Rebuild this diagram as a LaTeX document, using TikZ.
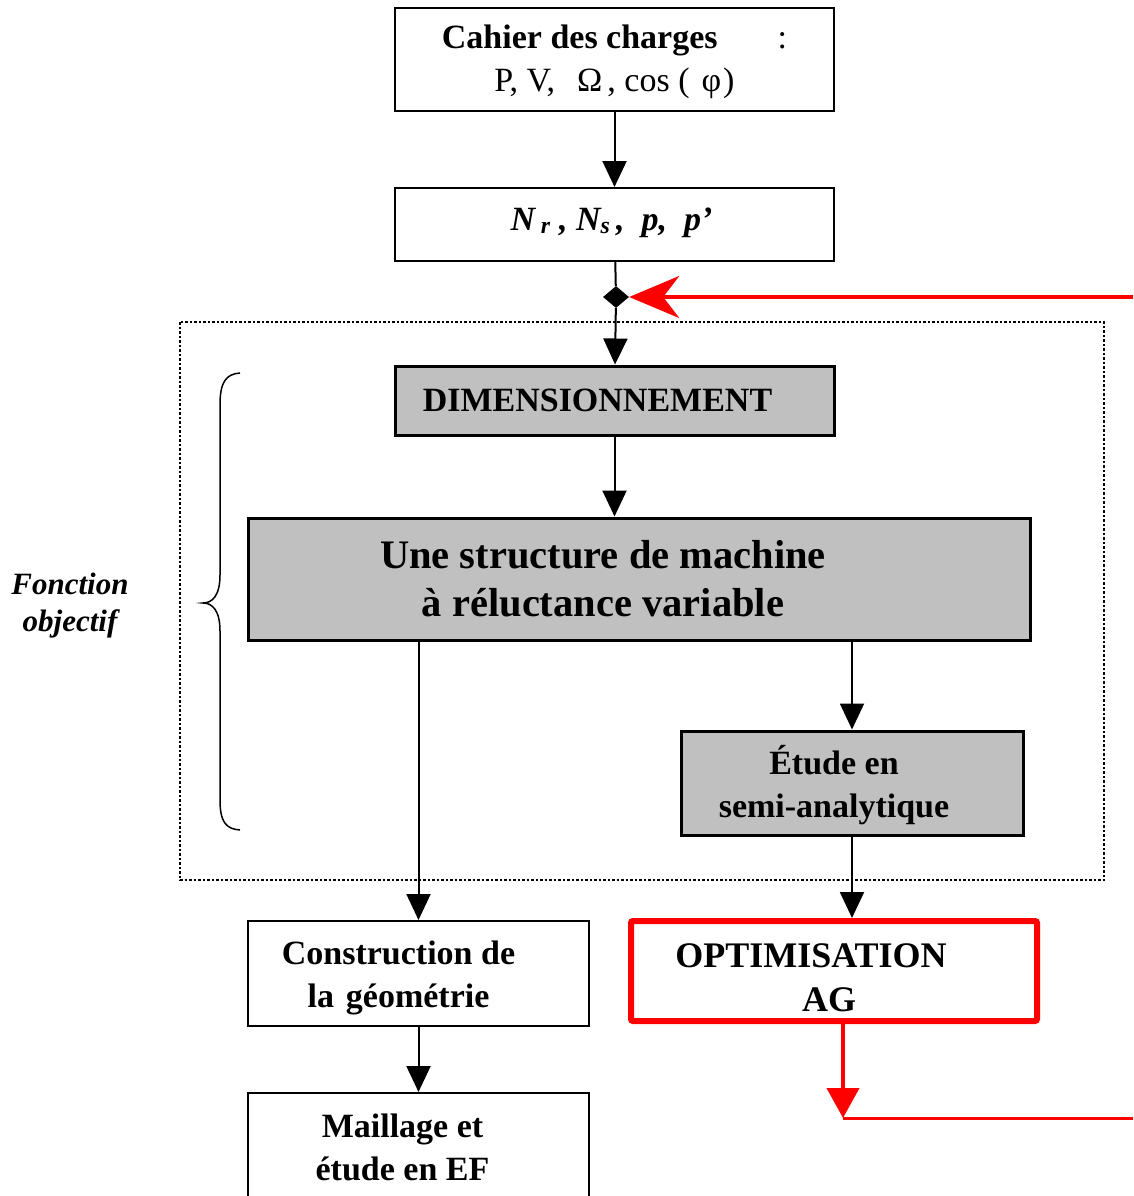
\documentclass[tikz,border=0pt]{standalone}
\usepackage{fontspec}
\setmainfont{Liberation Serif}
\usetikzlibrary{arrows.meta,shapes.geometric}
\definecolor{FlowGrey}{HTML}{C0C0C0}
\definecolor{FlowRed}{HTML}{FF0000}

\begin{document}
\begin{tikzpicture}[x=1pt,y=-1pt,
    >={Triangle[length=26pt,width=24pt]},
    flow/.style={->,line width=2pt},
    loopback/.style={draw=FlowRed,line width=4pt},
    plainbox/.style={draw,line width=2pt,fill=white,inner sep=0pt},
    greybox/.style={draw,line width=3pt,fill=FlowGrey,inner sep=0pt},
    optbox/.style={draw=FlowRed,line width=6pt,rounded corners=2pt,inner sep=0pt},
    boxtext/.style={font=\fontsize{34}{43}\selectfont\bfseries,align=center},
    bigtext/.style={font=\fontsize{40.5}{48}\selectfont\bfseries,align=center},
    sidetext/.style={font=\fontsize{31}{37}\selectfont\bfseries\itshape,align=center},
    junction/.style={diamond,fill=black,minimum width=26pt,minimum height=22pt,inner sep=0pt},
    frame/.style={dotted,line width=2.5pt}
  ]
  \useasboundingbox (0,0) rectangle (1133,1196);

  \node[plainbox,minimum width=439,minimum height=103,
    label={[boxtext,yshift=-2]center:{Cahier des charges\hspace{60pt}{\mdseries :}\\
      \mdseries P, V,\hspace{22pt}Ω\hspace{5pt}, cos (\hspace{12pt}φ\hspace{2pt})}}] (cahier) at (614.5,59.5) {};
  \node[plainbox,minimum width=439,minimum height=73,
    label={[boxtext,xshift=-3,yshift=2]center:{\itshape N\,\textsubscript{r} , N\textsubscript{s}\,, \ p, \ p’}}]
    (params) at (614.5,224.5) {};
  \node[junction] (junc) at (616,297) {};

  \draw[frame] (180,322) rectangle (1104,880);

  \node[greybox,minimum width=439,minimum height=69,
    label={[boxtext,xshift=-17]center:{DIMENSIONNEMENT}}] (dim) at (614.5,400.5) {};
  \node[greybox,minimum width=782,minimum height=122,
    label={[bigtext,xshift=-36]center:{Une structure de machine\\à réluctance variable}}]
    (struct) at (639,579) {};
  \node[greybox,minimum width=342,minimum height=104,
    label={[boxtext,xshift=-18,yshift=-2]center:{Étude en\\semi-analytique}}] (etude) at (852,783) {};

  \node[plainbox,minimum width=341,minimum height=105,
    label={[boxtext,xshift=-20,yshift=-4]center:{Construction de\\la\hspace{12pt}géométrie}}]
    (constr) at (418.5,973.5) {};
  \node[plainbox,minimum width=341,minimum height=117,
    label={[boxtext,xshift=-16,yshift=4]center:{Maillage et\\étude en EF}}] (maill) at (418.5,1151.5) {};
  \node[optbox,minimum width=406,minimum height=100,
    label={[boxtext,font=\fontsize{36}{44}\selectfont\bfseries,xshift=-5,yshift=-7]center:{OPTIMISATION\hspace*{36pt}\\AG}}]
    (optim) at (834,971) {};

  \node[sidetext] (fobj) at (70,606) {Fonction\\objectif};
  \draw[line width=1.5pt] (240,373) .. controls (226,374) and (220,382) .. (220,405) -- (220,575)
    .. controls (220,596) and (212,603) .. (203,603) .. controls (212,603) and (220,610) .. (220,631)
    -- (220,800) .. controls (220,822) and (226,829) .. (240,830);

  \draw[flow] (cahier) -- (params);
  \draw[line width=2pt] (params) -- (junc);
  \draw[flow] (junc) -- (dim);
  \draw[flow] (dim.south) -- (dim.south |- struct.north);
  \draw[flow] (struct.south -| constr) -- (constr);
  \draw[flow] (struct.south -| etude) -- (etude);
  \draw[flow] (etude.south) -- (etude.south |- optim.north);
  \draw[flow] (constr) -- (maill);

  \coordinate (inlet) at (1133,297);
  \coordinate (ret) at (843,1118);
  \coordinate (retend) at (1133,1118);
  \draw[loopback,-{Stealth[length=50pt,width=42pt,inset=16pt]}] (inlet) -- (junc.east);
  \draw[loopback,-{Triangle[length=30pt,width=32pt]}] (optim.south -| ret) -- (ret);
  \draw[draw=FlowRed,line width=3pt] (ret) -- (retend);
\end{tikzpicture}
\end{document}
